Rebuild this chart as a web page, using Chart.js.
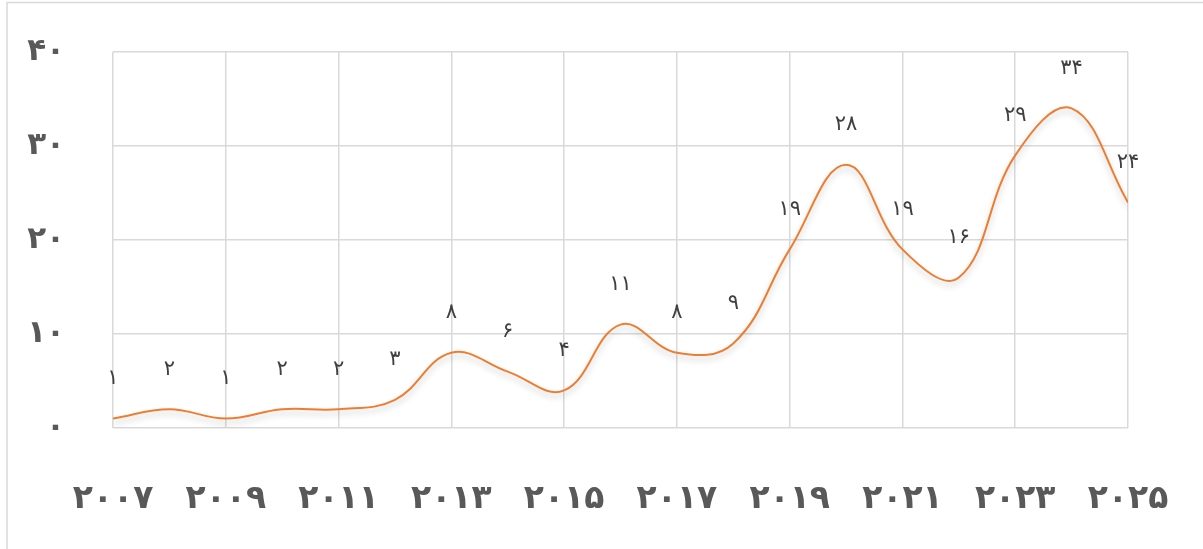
<!DOCTYPE html>
<html>
<head>
<meta charset="utf-8">
<script src="https://cdn.jsdelivr.net/npm/chart.js@4/dist/chart.umd.min.js"></script>
<style>
  html, body { margin: 0; padding: 0; background: #fff; }
  #wrap { width: 1203px; height: 549px; position: relative; }
</style>
</head>
<body>
<div id="wrap"><canvas id="chart" width="1203" height="549"></canvas></div>
<script>
const years = [2007, 2008, 2009, 2010, 2011, 2012, 2013, 2014, 2015, 2016, 2017, 2018, 2019, 2020, 2021, 2022, 2023, 2024, 2025]
const counts = [1, 2, 1, 2, 2, 3, 8, 6, 4, 11, 8, 9, 19, 28, 19, 16, 29, 34, 24]
const yTicks = [0, 10, 20, 30, 40]

const FONT = "'DejaVu Sans', sans-serif"

function fa(n) {
    return String(n).replace(/\d/g, d => '۰۱۲۳۴۵۶۷۸۹'[d])
}

// soft shadow under the line
const lineShadow = {
    id: 'lineShadow',
    beforeDatasetDraw(chart) {
        const ctx = chart.ctx
        ctx.save()
        ctx.shadowColor = 'rgba(0, 0, 0, 0.22)'
        ctx.shadowBlur = 6
        ctx.shadowOffsetY = 4
    },
    afterDatasetDraw(chart) {
        chart.ctx.restore()
    }
}

// value labels above every point
const valueLabels = {
    id: 'valueLabels',
    afterDatasetsDraw(chart) {
        const ctx = chart.ctx
        const meta = chart.getDatasetMeta(0)
        ctx.save()
        ctx.font = '21px ' + FONT
        ctx.fillStyle = '#404040'
        ctx.textAlign = 'center'
        ctx.textBaseline = 'middle'
        meta.data.forEach((pt, i) => {
            ctx.fillText(fa(counts[i]), pt.x, pt.y - 40)
        })
        ctx.restore()
    }
}

// thin frame along the top and left edge
const frame = {
    id: 'frame',
    beforeDraw(chart) {
        const ctx = chart.ctx
        ctx.save()
        ctx.strokeStyle = '#d9d9d9'
        ctx.lineWidth = 1.5
        ctx.beginPath()
        ctx.moveTo(7, chart.height)
        ctx.lineTo(7, 2.5)
        ctx.lineTo(chart.width, 2.5)
        ctx.stroke()
        ctx.restore()
    }
}

new Chart(document.querySelector('#chart').getContext('2d'), {
    type: 'line',
    data: {
        datasets: [{
            data: years.map((y, i) => ({ x: y, y: counts[i] })),
            borderColor: '#ed7d31',
            borderWidth: 2,
            pointRadius: 0,
            tension: 0.4,
            fill: false
        }]
    },
    options: {
        responsive: false,
        animation: false,
        layout: { padding: { left: 0, right: 75, top: 52, bottom: 0 } },
        plugins: { legend: { display: false }, tooltip: { enabled: false } },
        scales: {
            x: {
                type: 'linear',
                min: 2007,
                max: 2025,
                border: { display: false },
                grid: { color: '#d9d9d9', lineWidth: 1.5, drawTicks: false },
                ticks: {
                    stepSize: 2,
                    padding: 52,
                    color: '#595959',
                    font: { family: FONT, size: 33, weight: 'bold' },
                    callback: v => fa(v)
                },
                afterFit(scale) {
                    scale.height = 121
                    scale.paddingLeft = 0
                    scale.paddingRight = 0
                }
            },
            y: {
                min: 0,
                max: 40,
                border: { display: false },
                grid: { color: '#d9d9d9', lineWidth: 1.5, drawTicks: false },
                afterBuildTicks(scale) { scale.ticks = yTicks.map(v => ({ value: v })) },
                ticks: {
                    padding: 48,
                    color: '#595959',
                    font: { family: FONT, size: 31, weight: 'bold' },
                    callback: v => fa(v)
                },
                afterFit(scale) {
                    scale.width = 113
                    scale.paddingTop = 0
                    scale.paddingBottom = 0
                }
            }
        }
    },
    plugins: [frame, lineShadow, valueLabels]
})
</script>
</body>
</html>
